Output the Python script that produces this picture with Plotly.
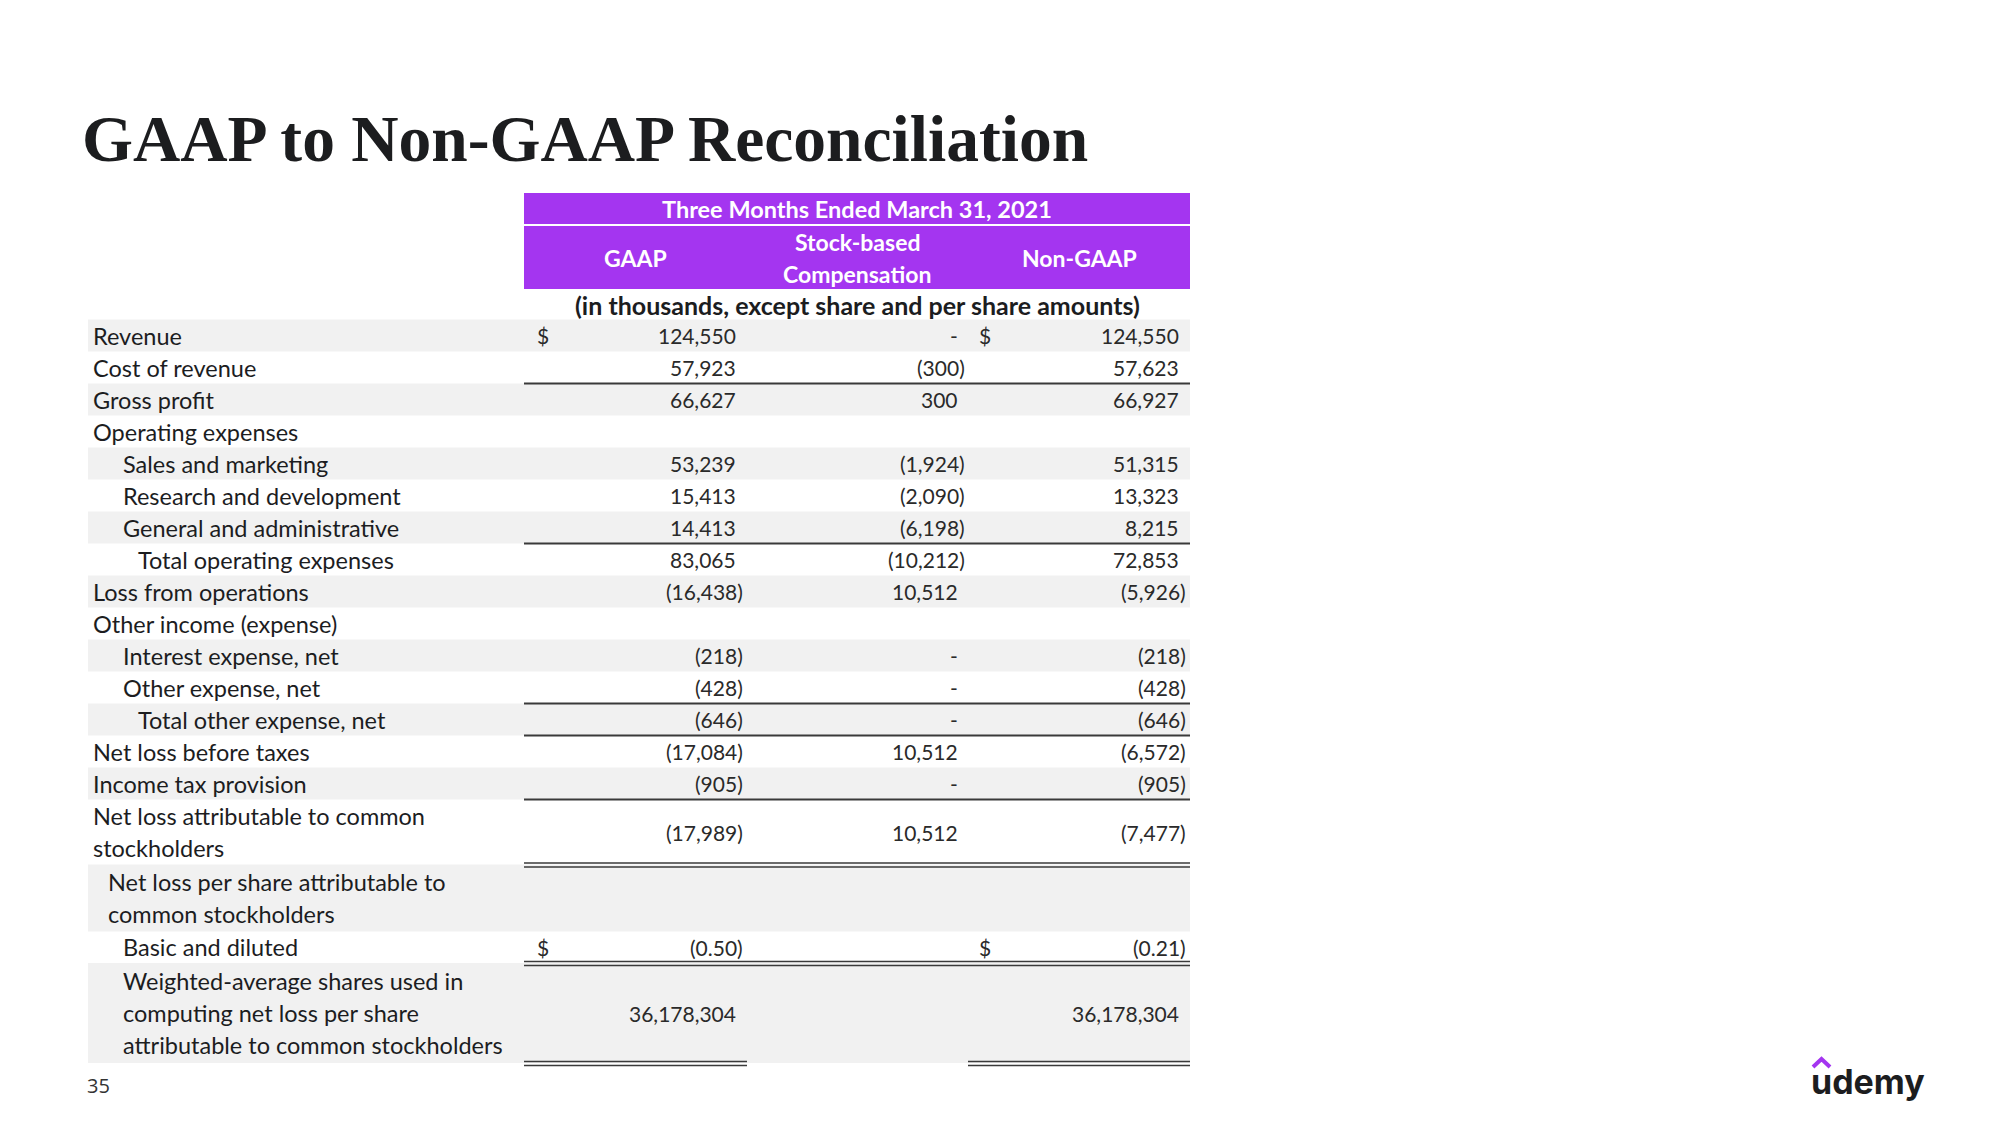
import plotly.graph_objects as go

# ---------------- data ----------------
title = "GAAP to Non-GAAP Reconciliation"
period_header = "Three Months Ended March 31, 2021"
column_headers = ["GAAP", "Stock-based<br>Compensation", "Non-GAAP"]
units_note = "(in thousands, except share and per share amounts)"

row_labels = [
    "Revenue", "Cost of revenue", "Gross profit", "Operating expenses",
    "Sales and marketing", "Research and development", "General and administrative",
    "Total operating expenses", "Loss from operations", "Other income (expense)",
    "Interest expense, net", "Other expense, net", "Total other expense, net",
    "Net loss before taxes", "Income tax provision",
    "Net loss attributable to common<br>stockholders",
    "Net loss per share attributable to<br>common stockholders",
    "Basic and diluted",
    "Weighted-average shares used in<br>computing net loss per share<br>attributable to common stockholders",
]
gaap_values = [124550, 57923, 66627, None, 53239, 15413, 14413, 83065, -16438, None,
               -218, -428, -646, -17084, -905, -17989, None, -0.50, 36178304]
sbc_values = [0, -300, 300, None, -1924, -2090, -6198, -10212, 10512, None,
              0, 0, 0, 10512, 0, 10512, None, None, None]
non_gaap_values = [124550, 57623, 66927, None, 51315, 13323, 8215, 72853, -5926, None,
                   -218, -428, -646, -6572, -905, -7477, None, -0.21, 36178304]
dollar_rows = ["Revenue", "Basic and diluted"]
per_share_rows = ["Basic and diluted"]
page_number = "35"
brand = "udemy"

# ---------------- style / layout ----------------
W, H = 2000, 1125
PURPLE = "#a435f0"
GRAY = "#f1f1f1"
TEXT = "#1c1d1f"
NUM = "#2a2a2a"
LINE = "#3a3a3a"
LABEL_FONT = "Lato"
# indent levels: 0 none, 1 sub-item, 2 total, 3 half indent
row_indent = [0, 0, 0, 0, 1, 1, 1, 2, 0, 0, 1, 1, 2, 0, 0, 0, 3, 1, 1]
indent_px = {0: 0, 1: 29.5, 2: 45, 3: 15}
row_heights = [32] * 15 + [65, 67, 31.5, 100]
single_rule_after = ["Cost of revenue", "General and administrative", "Other expense, net",
                     "Total other expense, net", "Income tax provision"]
double_rule_after = ["Net loss attributable to common<br>stockholders", "Basic and diluted"]

TOP0 = 319.5
LABEL_X0 = 88
TABLE_L, TABLE_R = 524, 1190
LABEL_TEXT_X = 93
GAAP_DOLLAR = 537
GAAP_RIGHT = 736
SBC_RIGHT = 958
NG_DOLLAR = 979
NG_RIGHT = 1179
PAREN = 7

shapes = []
annotations = []


def ann(x, y, text, size, color=TEXT, family=LABEL_FONT, xanchor="left", yanchor="middle"):
    annotations.append(dict(x=x, y=y, xref="x", yref="y", text=text, showarrow=False,
                            xanchor=xanchor, yanchor=yanchor, borderpad=0, borderwidth=0,
                            font=dict(size=size, color=color, family=family)))


def hline(x0, x1, y, width=2):
    shapes.append(dict(type="line", xref="x", yref="y", x0=x0, x1=x1, y0=y, y1=y,
                       line=dict(color=LINE, width=width), layer="above"))


def fmt(v, decimals=0):
    if v is None:
        return ""
    if v == 0:
        return "-"
    s = f"{abs(v):,.{decimals}f}"
    return f"({s})" if v < 0 else s


# title
ann(82, 139, f"<b>{title}</b>", 65.5, family="Liberation Serif")

# header bands
shapes.append(dict(type="rect", xref="x", yref="y", x0=TABLE_L, x1=TABLE_R, y0=193, y1=224,
                   fillcolor=PURPLE, line=dict(width=0), layer="below"))
shapes.append(dict(type="rect", xref="x", yref="y", x0=TABLE_L, x1=TABLE_R, y0=226, y1=289,
                   fillcolor=PURPLE, line=dict(width=0), layer="below"))
ann(857, 209, f"<b>{period_header}</b>", 23.5, color="white", xanchor="center")
header_x = [635, 857, 1079]
for hx, htxt in zip(header_x, column_headers):
    lines = htxt.split("<br>")
    n = len(lines)
    for i, ln in enumerate(lines):
        ann(hx, 257.5 + (i - (n - 1) / 2) * 32, f"<b>{ln}</b>", 23, color="white", xanchor="center")
ann(857, 305, f"<b>{units_note}</b>", 25, xanchor="center")

# rows
top = TOP0
for r, label in enumerate(row_labels):
    h = row_heights[r]
    bottom = top + h
    mid = (top + bottom) / 2
    if r % 2 == 0:
        shapes.append(dict(type="rect", xref="x", yref="y", x0=LABEL_X0, x1=TABLE_R,
                           y0=top, y1=bottom, fillcolor=GRAY, line=dict(width=0), layer="below"))
    lines = label.split("<br>")
    n = len(lines)
    for i, ln in enumerate(lines):
        ann(LABEL_TEXT_X + indent_px[row_indent[r]], mid + (i - (n - 1) / 2) * 32, ln, 23.5)

    dec = 2 if label in per_share_rows else 0
    for vals, right in ((gaap_values, GAAP_RIGHT), (sbc_values, SBC_RIGHT), (non_gaap_values, NG_RIGHT)):
        v = vals[r]
        t = fmt(v, dec)
        if t:
            xr = right + (PAREN if (v is not None and v < 0) else 0)
            ann(xr, mid, t, 21, color=NUM, xanchor="right")
    if label in dollar_rows:
        ann(GAAP_DOLLAR, mid, "$", 21, color=NUM)
        ann(NG_DOLLAR, mid, "$", 21, color=NUM)

    if label in single_rule_after:
        hline(TABLE_L, TABLE_R, bottom)
    if label in double_rule_after:
        hline(TABLE_L, TABLE_R, bottom - 1.5, 1.6)
        hline(TABLE_L, TABLE_R, bottom + 2.5, 1.6)
    if r == len(row_labels) - 1:
        for x0, x1 in ((TABLE_L, 747), (968, TABLE_R)):
            hline(x0, x1, bottom - 1.5, 1.6)
            hline(x0, x1, bottom + 2.5, 1.6)
    top = bottom

# page number
ann(87, 1085, page_number, 20, color="#333333", family="Open Sans")

# brand logo
ann(1811, 1081, f"<b>{brand}</b>", 34, color="#1c1d1f", family="Inter")
shapes.append(dict(type="path", xref="x", yref="y",
                   path="M 1813,1067 L 1821.5,1059 L 1830,1067",
                   line=dict(color=PURPLE, width=4), layer="above"))

fig = go.Figure()
fig.add_trace(go.Scatter(x=[], y=[], mode="markers", showlegend=False))
fig.update_layout(
    width=W, height=H, margin=dict(l=0, r=0, t=0, b=0),
    paper_bgcolor="white", plot_bgcolor="white",
    xaxis=dict(range=[0, W], visible=False, fixedrange=True),
    yaxis=dict(range=[H, 0], visible=False, fixedrange=True),
    shapes=shapes, annotations=annotations, showlegend=False,
)
fig.write_html("out.html", config={"displayModeBar": False},
               post_script="document.body.style.margin='0';")
